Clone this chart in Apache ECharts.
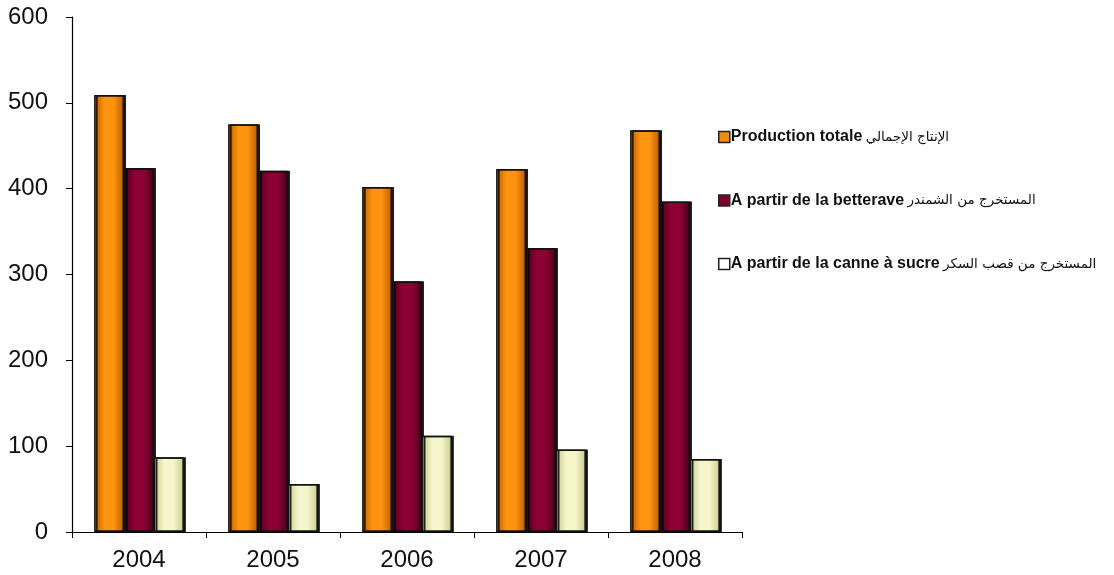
<!DOCTYPE html>
<html lang="fr">
<head>
<meta charset="UTF-8" />
<title>Production de sucre</title>
</head>
<body>
<style>
* {
  margin: 0;
  padding: 0;
}
#chart {
  width: 1114px;
  height: 575px;
  background-color: #fff;
}
</style>
<div id="chart"></div>
<script src="https://cdn.jsdelivr.net/npm/echarts@6/dist/echarts.min.js"></script>
<script>
// données
const years = ['2004', '2005', '2006', '2007', '2008'];
const totale = [509, 475, 402, 423, 468];
const betterave = [424, 421, 292, 331, 385];
const canne = [87, 56, 112, 96, 85];

const names = [
  ['Production totale', 'الإنتاج الإجمالي'],
  ['A partir de la betterave', 'المستخرج من الشمندر'],
  ['A partir de la canne à sucre', 'المستخرج من قصب السكر'],
];

function barColor(edge, mid) {
  return {
    type: 'linear', x: 0, x2: 1, y: 0, y2: 0,
    colorStops: [
      { offset: 0, color: edge },
      { offset: 0.35, color: mid },
      { offset: 0.65, color: mid },
      { offset: 1, color: edge },
    ],
  };
}

const styles = [
  { fill: barColor('#b85c00', '#ff9410'), legend: '#f08a10' },
  { fill: barColor('#4a0018', '#8c0034'), legend: '#80002c' },
  { fill: barColor('#c9c98c', '#f6f6cc'), legend: '#ffffff' },
];

const seriesData = [totale, betterave, canne];

const series = seriesData.map(function (data, i) {
  return {
    name: names[i][0] + ' ' + names[i][1],
    type: 'bar',
    data: data,
    barGap: '0%',
    barCategoryGap: '33%',
    itemStyle: {
      color: styles[i].fill,
      borderColor: '#111',
      borderWidth: 1.5,
      shadowColor: 'rgba(0,0,0,0.85)',
      shadowOffsetX: 2,
      shadowOffsetY: 0,
    },
  };
});

const chart = echarts.init(document.getElementById('chart'));
chart.setOption({
  animation: false,
  grid: {
    left: 72,
    right: 372,
    top: 17,
    bottom: 43,
  },
  legend: {
    orient: 'vertical',
    left: 718,
    top: 129,
    padding: 0,
    itemGap: 47.5,
    itemWidth: 11,
    itemHeight: 11,
    icon: 'rect',
    selectedMode: false,
    data: series.map(function (s, i) {
      return {
        name: s.name,
        itemStyle: { color: styles[i].legend, borderColor: '#222', borderWidth: 1.5, shadowBlur: 0, shadowOffsetX: 0 },
      };
    }),
    formatter: function (name) {
      const idx = series.findIndex(function (s) { return s.name === name; });
      return '{fr|' + names[idx][0] + '} {ar|' + names[idx][1] + '}';
    },
    textStyle: {
      padding: [0, 0, 0, -4],
      rich: {
        fr: { fontFamily: 'Liberation Sans, Arial', fontWeight: 'bold', fontSize: 16, lineHeight: 16, color: '#111' },
        ar: { fontFamily: 'DejaVu Sans', fontSize: 13.5, lineHeight: 16, color: '#111' },
      },
    },
  },
  xAxis: {
    type: 'category',
    data: years,
    axisLine: { lineStyle: { color: '#000', width: 1.2 } },
    axisTick: { show: true, length: 6, lineStyle: { color: '#000' } },
    axisLabel: {
      color: '#111',
      fontFamily: 'Liberation Sans, Arial',
      fontSize: 24,
      margin: 16,
    },
  },
  yAxis: {
    type: 'value',
    min: 0,
    max: 600,
    interval: 100,
    axisLine: { show: true, lineStyle: { color: '#000', width: 1.2 } },
    axisTick: { show: true, length: 6, lineStyle: { color: '#000' } },
    splitLine: { show: false },
    axisLabel: {
      color: '#111',
      fontFamily: 'Liberation Sans, Arial',
      fontSize: 24,
      margin: 24,
    },
  },
  series: series,
});
</script>
</body>
</html>
